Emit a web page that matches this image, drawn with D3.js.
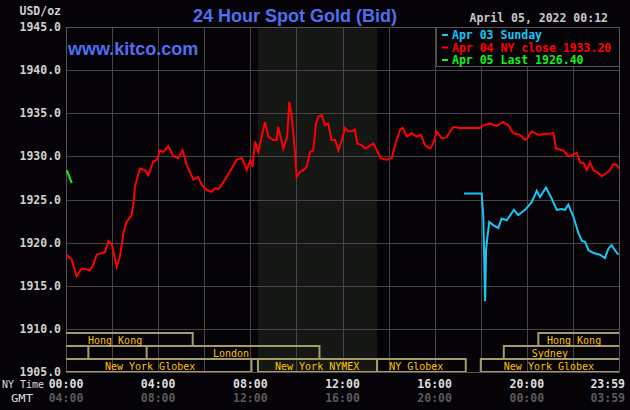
<!DOCTYPE html>
<html>
<head>
<meta charset="utf-8">
<script src="https://cdn.jsdelivr.net/npm/d3@7"></script>
<style>
  body { margin: 0; background: #050308; }
  svg { display: block; }
  text { font-family: "DejaVu Sans Mono", monospace; }
</style>
</head>
<body>
<div class="viz"></div>
<script>
// red : Apr 04 (NY close 1933.20)
var redHours = [0.03,0.25,0.46,0.68,1.04,1.18,1.33,1.55,1.69,1.84,1.98,2.20,2.34,2.49,2.63,2.85,2.92,2.99,3.21,3.43,3.57,3.79,3.94,4.08,4.22,4.44,4.66,4.87,5.06,5.24,5.53,5.74,5.89,6.11,6.32,6.47,6.61,6.76,6.97,7.19,7.41,7.62,7.77,7.84,7.99,8.10,8.20,8.35,8.49,8.64,8.78,9.00,9.14,9.21,9.43,9.60,9.69,9.80,9.94,10.01,10.16,10.30,10.45,10.59,10.73,10.85,10.95,11.10,11.24,11.38,11.53,11.68,11.82,11.97,12.11,12.25,12.40,12.54,12.64,12.83,12.98,13.12,13.34,13.49,13.66,13.92,14.14,14.28,14.50,14.61,14.79,15.00,15.22,15.40,15.58,15.80,15.94,16.09,16.31,16.52,16.67,16.81,17.10,17.97,18.11,18.40,18.69,18.95,19.20,19.41,19.70,19.92,20.02,20.21,20.50,20.86,21.15,21.27,21.58,21.80,22.02,22.17,22.31,22.48,22.60,22.74,22.89,23.03,23.25,23.47,23.61,23.75,23.90,24.00]
var redValues = [1918.6,1918.0,1916.1,1917.0,1916.8,1917.4,1918.6,1918.8,1918.9,1920.2,1919.9,1917.2,1918.4,1921.1,1922.4,1923.2,1924.4,1926.5,1928.6,1928.4,1927.8,1929.4,1929.6,1930.7,1930.5,1931.2,1930.0,1929.8,1930.7,1929.0,1927.3,1927.6,1926.7,1926.1,1925.9,1926.3,1926.2,1926.7,1927.6,1928.6,1929.6,1929.8,1929.0,1928.4,1929.5,1928.8,1931.7,1930.5,1932.3,1934.0,1932.3,1931.9,1931.9,1933.4,1930.9,1932.3,1936.3,1934.6,1930.4,1927.6,1928.2,1928.4,1928.8,1930.5,1930.7,1933.8,1934.6,1934.8,1933.6,1933.8,1931.9,1931.9,1930.7,1931.9,1933.3,1932.9,1932.9,1933.1,1931.5,1931.3,1930.9,1931.1,1931.5,1930.7,1929.8,1929.6,1929.8,1931.3,1933.1,1933.3,1932.3,1932.7,1932.3,1932.5,1931.3,1930.9,1931.5,1932.9,1932.1,1932.2,1932.9,1933.4,1933.3,1933.3,1933.6,1933.8,1933.5,1934.0,1933.6,1932.7,1932.5,1931.9,1932.1,1932.9,1932.5,1932.6,1932.7,1930.9,1930.7,1930.0,1930.2,1930.4,1929.3,1929.2,1928.4,1929.3,1928.4,1928.2,1927.7,1928.1,1928.4,1929.1,1929.0,1928.6]

// cyan : Apr 03 Sunday
var cyanHours = [17.27,18.04,18.11,18.19,18.23,18.29,18.37,18.55,18.76,18.91,19.13,19.44,19.63,19.92,20.21,20.43,20.57,20.83,21.08,21.30,21.51,21.66,21.80,22.02,22.24,22.39,22.53,22.68,22.89,23.18,23.39,23.54,23.68,23.83,23.97]
var cyanValues = [1925.7,1925.7,1923.0,1913.2,1919.1,1920.7,1922.4,1922.0,1921.7,1922.8,1922.6,1923.8,1923.2,1923.8,1924.7,1926.0,1925.3,1926.4,1925.1,1923.8,1923.9,1923.8,1924.4,1923.0,1921.1,1920.2,1920.1,1919.1,1918.8,1918.6,1918.2,1919.3,1919.7,1919.1,1918.6]

// green : Apr 05 last
var greenHours = [0.03,0.12,0.25]
var greenValues = [1928.4,1927.8,1926.9]

var legendLabels = ["Apr 03 Sunday","Apr 04 NY close 1933.20","Apr 05 Last 1926.40"]
var legendColors = ["#19c6f5","#ff0000","#19ee19"]

var yTicks = [1905,1910,1915,1920,1925,1930,1935,1940,1945]
var xTickHours = [0,4,8,12,16,20,24]
var nyLabels = ["00:00","04:00","08:00","12:00","16:00","20:00","23:59"]
var gmtLabels = ["04:00","08:00","12:00","16:00","20:00","00:00","03:59"]

// trading sessions
var sessionNames = ["Hong Kong","","London","New York Globex","New York NYMEX","NY Globex","New York Globex","Sydney","Hong Kong"]
var sessionRow = [0,1,1,2,2,2,2,1,0]
var sessionStart = [-1,-1,3.5,-1,8.33,13.5,18.0,19.0,20.5]
var sessionEnd = [5.5,0.97,11.0,8.05,13.5,17.35,25,25,25]
var sessionLabelAt = [2.13,0,7.16,3.65,10.9,15.2,20.96,21.0,22.05]

var nymexStart = 8.33, nymexEnd = 13.5

var width = 630, height = 410,
    margin = {top:27,bottom:38,right:11,left:66}
var w = width-margin.left-margin.right,
    h = height-margin.top-margin.bottom

var svg = d3.select(".viz").append("svg")
  .attr("width",width).attr("height",height)

svg.append("rect").attr("width",width).attr("height",height).attr("fill","#050308")

var g = svg.append("g").attr("transform","translate("+margin.left+","+margin.top+")")

var x = d3.scaleLinear().domain([0,24]).range([0,w])
var y = d3.scaleLinear().domain([1905,1945]).range([h,0])

g.append("clipPath").attr("id","clip").append("rect").attr("width",w).attr("height",h)

// nymex shading
g.append("rect")
  .attr("x",x(nymexStart)).attr("y",0)
  .attr("width",x(nymexEnd)-x(nymexStart)).attr("height",h)
  .attr("fill","#151715")

// grid
g.append("g").selectAll("line").data(d3.range(0,25,2)).enter().append("line")
  .attr("x1",function(d){ return Math.round(x(d))+0.5 }).attr("x2",function(d){ return Math.round(x(d))+0.5 })
  .attr("y1",0).attr("y2",h)
  .attr("stroke","#464646").attr("stroke-width",1)

g.append("g").selectAll("line").data(yTicks).enter().append("line")
  .attr("y1",function(d){ return Math.round(y(d))+0.5 }).attr("y2",function(d){ return Math.round(y(d))+0.5 })
  .attr("x1",0).attr("x2",w)
  .attr("stroke","#464646").attr("stroke-width",1)

g.append("rect").attr("x",0.5).attr("y",0.5).attr("width",w).attr("height",h)
  .attr("fill","none").attr("stroke","#555").attr("stroke-width",1)

// sessions
var rowY = [306,319,332], rowH = 13
var sess = g.append("g").attr("clip-path","url(#clip)")
sessionNames.forEach(function(name,i){
  var x0 = x(sessionStart[i]), x1 = x(sessionEnd[i])
  sess.append("rect")
    .attr("x",x0).attr("y",rowY[sessionRow[i]])
    .attr("width",x1-x0).attr("height",rowH)
    .attr("fill","none").attr("stroke","#a49c68").attr("stroke-width",2)
  if (name) {
    sess.append("text")
      .attr("x",x(sessionLabelAt[i])).attr("y",rowY[sessionRow[i]]+10.5)
      .attr("text-anchor","middle")
      .attr("fill","#ffc400").attr("font-size","10px")
      .text(name)
  }
})

// lines
var line = d3.line()
  .x(function(d){ return x(d[0]) })
  .y(function(d){ return y(d[1]) })

var lines = g.append("g").attr("clip-path","url(#clip)")
lines.append("path").datum(d3.zip(redHours,redValues))
  .attr("d",line).attr("fill","none").attr("stroke","#ff0000").attr("stroke-width",2)
lines.append("path").datum(d3.zip(cyanHours,cyanValues))
  .attr("d",line).attr("fill","none").attr("stroke","#19c6f5").attr("stroke-width",2)
lines.append("path").datum(d3.zip(greenHours,greenValues))
  .attr("d",line).attr("fill","none").attr("stroke","#19ee19").attr("stroke-width",2)

// legend box
var lg = g.append("g").attr("transform","translate("+(w-183)+",0)")
lg.append("rect").attr("x",0.5).attr("y",0.5).attr("width",183).attr("height",39)
  .attr("fill","#050308").attr("stroke","#555")
legendLabels.forEach(function(t,i){
  lg.append("line").attr("x1",6).attr("x2",12).attr("y1",8+i*12.5).attr("y2",8+i*12.5)
    .attr("stroke",legendColors[i]).attr("stroke-width",2)
  lg.append("text").attr("x",16).attr("y",12+i*12.5)
    .attr("fill",legendColors[i]).attr("font-size","11.5px").attr("font-weight","bold")
    .text(t)
})

// y labels
svg.append("g").selectAll("text").data(yTicks).enter().append("text")
  .attr("x",61).attr("y",function(d){ return margin.top+y(d)+4 })
  .attr("text-anchor","end").attr("fill","#d0d0d0")
  .attr("font-size","11.5px").attr("font-weight","bold")
  .text(function(d){ return d.toFixed(1) })

svg.append("text").attr("x",61).attr("y",15).attr("text-anchor","end")
  .attr("fill","#d0d0d0").attr("font-size","11.5px").attr("font-weight","bold").text("USD/oz")

// x labels
xTickHours.forEach(function(hr,i){
  var last = i === xTickHours.length-1
  var px = margin.left + x(hr) + (last ? 6 : 0)
  svg.append("text").attr("x",px).attr("y",388)
    .attr("text-anchor",last ? "end" : "middle")
    .attr("fill","#dedede").attr("font-size","11.5px").attr("font-weight","bold")
    .text(nyLabels[i])
  svg.append("text").attr("x",px).attr("y",402)
    .attr("text-anchor",last ? "end" : "middle")
    .attr("fill","#5a5a5a").attr("font-size","11.5px").attr("font-weight","bold")
    .text(gmtLabels[i])
})
svg.append("text").attr("x",2).attr("y",388).attr("fill","#dedede").attr("font-size","10px")
  .attr("textLength",42).attr("lengthAdjust","spacingAndGlyphs").text("NY Time")
svg.append("text").attr("x",11).attr("y",402).attr("fill","#dedede").attr("font-size","10.5px")
  .attr("textLength",22).attr("lengthAdjust","spacingAndGlyphs").text("GMT")

// titles
svg.append("text").attr("x",295).attr("y",22).attr("text-anchor","middle")
  .style("font-family","'Liberation Sans', Arial, sans-serif")
  .attr("font-size","18px").attr("font-weight","bold").attr("fill","#4f6ff2")
  .text("24 Hour Spot Gold (Bid)")
svg.append("text").attr("x",68).attr("y",55)
  .style("font-family","'Liberation Sans', Arial, sans-serif")
  .attr("font-size","18px").attr("font-weight","bold").attr("fill","#4f6ff2")
  .text("www.kitco.com")
svg.append("text").attr("x",608).attr("y",22).attr("text-anchor","end")
  .attr("fill","#c8c8c8").attr("font-size","11.5px").attr("font-weight","bold")
  .text("April 05, 2022 00:12")
</script>
</body>
</html>
